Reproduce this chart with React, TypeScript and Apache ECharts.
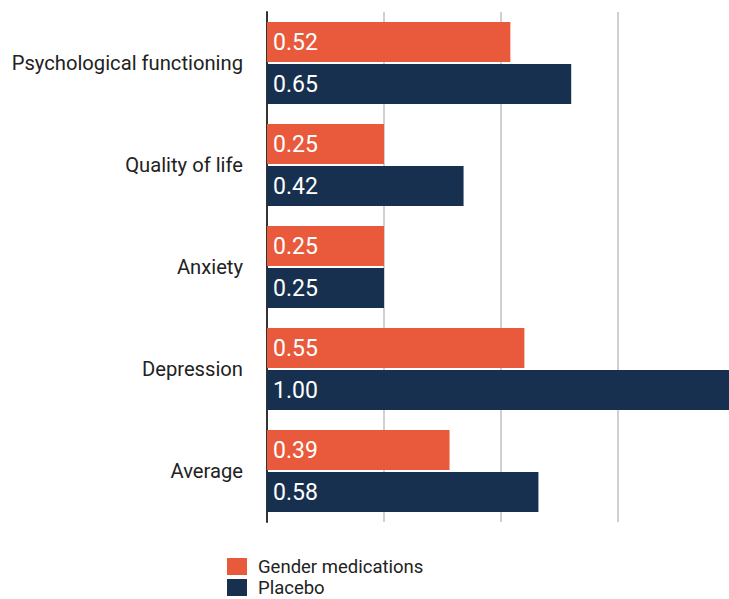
import React, { useEffect, useRef } from "react";
import * as echarts from "echarts";

const categories = ["Psychological functioning", "Quality of life", "Anxiety", "Depression", "Average"];
const genderMedications = [0.52, 0.25, 0.25, 0.55, 0.39];
const placebo = [0.65, 0.42, 0.25, 1.0, 0.58];
const seriesNames = ["Gender medications", "Placebo"];
const seriesColors = ["#E85A3B", "#17304F"];

export default function App() {
  const ref = useRef<HTMLDivElement>(null);
  useEffect(() => {
    if (!ref.current) return;
    const chart = echarts.init(ref.current, null, { renderer: "svg" });
    const label = {
      show: true,
      position: "insideLeft",
      distance: 6,
      color: "#ffffff",
      fontSize: 23,
      fontFamily: "Roboto",
      formatter: (p: any) => Number(p.value).toFixed(2),
    };
    const legendCommon = {
      orient: "vertical",
      left: 227,
      itemWidth: 20,
      itemHeight: 17,
      icon: "rect",
      padding: 0,
      textStyle: { fontSize: 18.5, color: "#222", fontFamily: "Roboto", lineHeight: 21, padding: [0, 0, 0, 6] },
    };
    chart.setOption({
      animation: false,
      color: seriesColors,
      grid: { left: 267, right: 5, top: 12, bottom: 77 },
      legend: [
        { ...legendCommon, top: 556, data: [seriesNames[0]] },
        { ...legendCommon, top: 577, data: [seriesNames[1]] },
      ],
      xAxis: {
        type: "value",
        min: 0,
        max: 1,
        interval: 0.25,
        axisLabel: { show: false },
        axisLine: { show: false },
        axisTick: { show: false },
        splitLine: { lineStyle: { color: "#d0d0d0", width: 2 } },
      },
      yAxis: {
        type: "category",
        data: categories,
        inverse: true,
        axisTick: { show: false },
        axisLine: { show: true, lineStyle: { color: "#333", width: 2 } },
        axisLabel: { fontSize: 20.2, color: "#222", margin: 24, fontFamily: "Roboto" },
      },
      series: [
        {
          name: seriesNames[0],
          type: "bar",
          data: genderMedications,
          barWidth: 40,
          barGap: "5%",
          itemStyle: { color: seriesColors[0] },
          label,
        },
        {
          name: seriesNames[1],
          type: "bar",
          data: placebo,
          barWidth: 40,
          barGap: "5%",
          itemStyle: { color: seriesColors[1] },
          label,
        },
      ],
    });
    return () => chart.dispose();
  }, []);
  return (
    <div style={{ position: "fixed", left: 0, top: 0, width: 729, height: 599, overflow: "hidden", background: "#fff" }}>
      <div ref={ref} style={{ width: 740, height: 599 }} />
    </div>
  );
}
